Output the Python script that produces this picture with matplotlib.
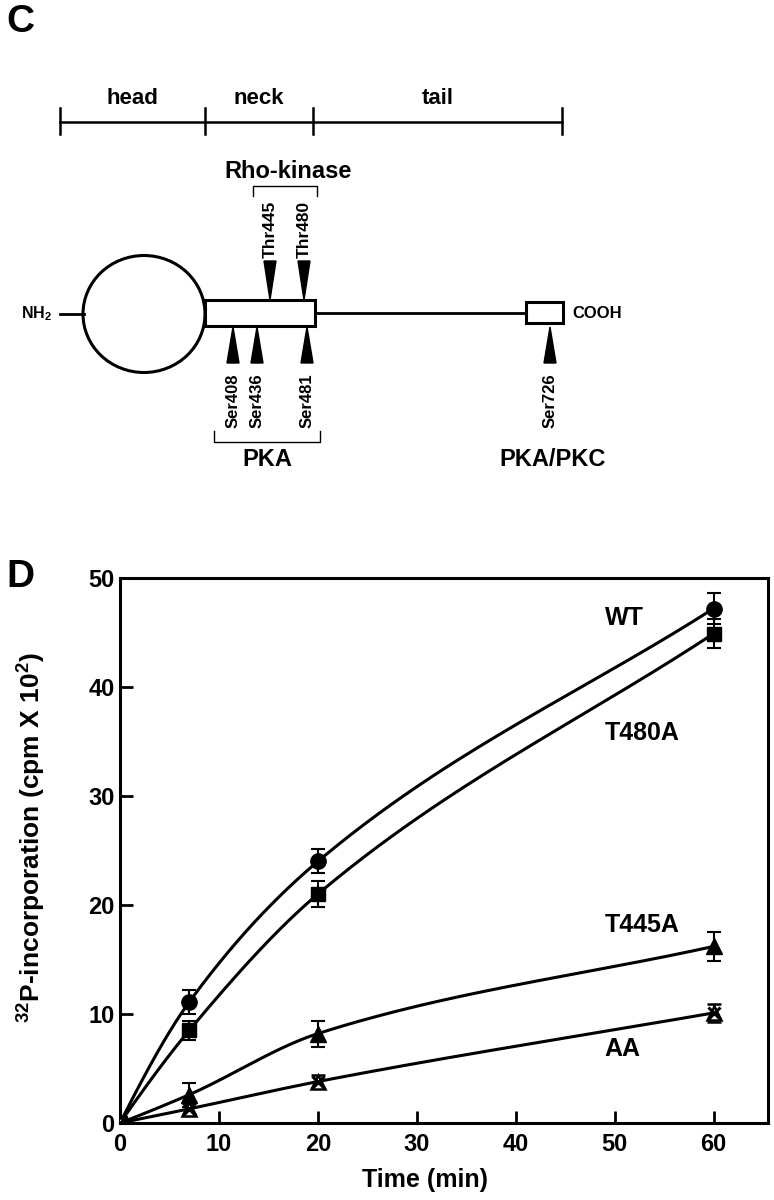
import numpy as np
import matplotlib
matplotlib.use("Agg")
from matplotlib import pyplot as plt
from matplotlib.patches import Ellipse, Rectangle, Polygon

plt.rcParams['font.family'] = ['Liberation Sans', 'DejaVu Sans']
plt.rcParams['font.weight'] = 'bold'
plt.rcParams['axes.labelweight'] = 'bold'
plt.rcParams['mathtext.fontset'] = 'custom'
plt.rcParams['mathtext.rm'] = 'Liberation Sans:bold'
plt.rcParams['mathtext.bf'] = 'Liberation Sans:bold'

# ---- panel D data ----
time = [0, 7, 20, 60]
wt = [0, 11.1, 24.0, 47.2]
wt_err = [0.3, 1.1, 1.1, 1.4]
t480a = [0, 8.5, 21.0, 44.9]
t480a_err = [0.3, 0.9, 1.2, 1.3]
t445a = [0, 2.6, 8.2, 16.2]
t445a_err = [0.3, 1.1, 1.2, 1.3]
aa = [0, 1.3, 3.8, 10.1]
aa_err = [0.3, 0.5, 0.6, 0.8]
series_names = ['WT', 'T480A', 'T445A', 'AA']
label_pos = [(51.0, 46.3), (52.8, 35.8), (52.8, 18.2), (50.8, 6.8)]
xticks = [0, 10, 20, 30, 40, 50, 60]
yticks = [0, 10, 20, 30, 40, 50]

# ---- panel C data ----
domain_names = ['head', 'neck', 'tail']
domain_edges = [60, 205, 313, 562]
rho_sites = ['Thr445', 'Thr480']
rho_x = [270, 304]
pka_sites = ['Ser408', 'Ser436', 'Ser481']
pka_x = [233, 257, 307]
pkc_sites = ['Ser726']
pkc_x = [550]


def smooth_curve(x, y, n=60):
    # monotone cubic through the measured points
    x = np.asarray(x, float)
    y = np.asarray(y, float)
    h = np.diff(x)
    delta = np.diff(y) / h
    d = np.zeros_like(y)
    for k in range(1, len(x) - 1):
        if delta[k - 1] * delta[k] > 0:
            w1 = 2 * h[k] + h[k - 1]
            w2 = h[k] + 2 * h[k - 1]
            d[k] = (w1 + w2) / (w1 / delta[k - 1] + w2 / delta[k])
    d[0] = ((2 * h[0] + h[1]) * delta[0] - h[0] * delta[1]) / (h[0] + h[1])
    d[-1] = delta[-1]
    xs, ys = [], []
    for k in range(len(x) - 1):
        t = np.linspace(0, 1, n)
        h00 = 2 * t**3 - 3 * t**2 + 1
        h10 = t**3 - 2 * t**2 + t
        h01 = -2 * t**3 + 3 * t**2
        h11 = t**3 - t**2
        xs.append(x[k] + t * h[k])
        ys.append(h00 * y[k] + h10 * h[k] * d[k] + h01 * y[k + 1] + h11 * h[k] * d[k + 1])
    return np.concatenate(xs), np.concatenate(ys)


fig = plt.figure(figsize=(7.74, 12), dpi=100)

# overlay in pixel coordinates for the diagram
ov = fig.add_axes([0, 0, 1, 1])
ov.set_xlim(0, 774)
ov.set_ylim(1200, 0)
ov.axis('off')

ov.text(6, 22, 'C', fontsize=28, va='center', ha='left')
ov.text(6, 577, 'D', fontsize=28, va='center', ha='left')

# domain scale bar
ov.plot([domain_edges[0], domain_edges[-1]], [122, 122], color='k', lw=1.8)
for xe in domain_edges:
    ov.plot([xe, xe], [108, 134], color='k', lw=1.8)
for i, name in enumerate(domain_names):
    ov.text((domain_edges[i] + domain_edges[i + 1]) / 2, 98, name,
            fontsize=16, ha='center', va='center')

# molecule
ov.plot([60, 84], [314, 314], color='k', lw=2)
ov.add_patch(Ellipse((144, 314), 122, 117, fill=False, ec='k', lw=2.2))
ov.add_patch(Rectangle((205, 300), 110, 26, fill=False, ec='k', lw=2.2))
ov.plot([315, 526], [313, 313], color='k', lw=2)
ov.add_patch(Rectangle((526, 302), 37, 21, fill=False, ec='k', lw=2.2))
ov.text(21, 314, 'NH$_2$', fontsize=11.5, ha='left', va='center')
ov.text(572, 313, 'COOH', fontsize=12, ha='left', va='center')

# Rho-kinase sites (above)
for name, xs in zip(rho_sites, rho_x):
    ov.add_patch(Polygon([[xs - 6, 261], [xs + 6, 261], [xs, 300]], closed=True, fc='k', ec='k'))
    ov.text(xs, 229, name, rotation=90, fontsize=12.5, ha='center', va='center')
ov.plot([253, 253, 317, 317], [196, 186, 186, 196], color='k', lw=1)
ov.text(288, 171, 'Rho-kinase', fontsize=17, ha='center', va='center')

# PKA / PKC sites (below)
for name, xs in zip(pka_sites + pkc_sites, pka_x + pkc_x):
    ov.add_patch(Polygon([[xs - 6, 363], [xs + 6, 363], [xs, 327]], closed=True, fc='k', ec='k'))
    ov.text(xs, 401, name, rotation=90, fontsize=12, ha='center', va='center')
ov.plot([214, 214, 320, 320], [431, 442, 442, 431], color='k', lw=1)
ov.text(267, 460, 'PKA', fontsize=17, ha='center', va='center')
ov.text(553, 460, 'PKA/PKC', fontsize=17, ha='center', va='center')

# ---- panel D plot ----
ax = fig.add_axes([120 / 774, (1200 - 1123) / 1200, (768 - 120) / 774, (1123 - 578) / 1200])
data = [wt, t480a, t445a, aa]
for y in data:
    cx, cy = smooth_curve(time, y)
    ax.plot(cx, cy, color='k', lw=2.2, zorder=2)

ebk = dict(color='k', capsize=5, elinewidth=1.5, capthick=1.5, zorder=3)
ax.errorbar(time, wt, yerr=wt_err, fmt='o', ms=11, **ebk)
ax.errorbar(time, t480a, yerr=t480a_err, fmt='s', ms=10, **ebk)
ax.errorbar(time, t445a, yerr=t445a_err, fmt='^', ms=11, **ebk)
ax.errorbar(time, aa, yerr=aa_err, fmt='^', mfc='white', mew=1.8, ms=10, **ebk)
ax.plot(time, aa, 'x', color='k', ms=9, mew=2.2, zorder=4)

for name, (lx, ly) in zip(series_names, label_pos):
    ax.text(lx, ly, name, fontsize=18, ha='center', va='center')

ax.set_xlim(0, 65.5)
ax.set_ylim(0, 50)
ax.set_xticks(xticks)
ax.set_yticks(yticks)
ax.tick_params(direction='in', length=9, width=2, labelsize=17, top=False, right=False)
ax.tick_params(axis='x', pad=7)
ax.tick_params(axis='y', pad=4)
for sp in ax.spines.values():
    sp.set_linewidth(2.2)
ax.set_xlabel('Time (min)', fontsize=18)
ax.set_ylabel('$^{32}$P-incorporation (cpm X 10$^2$)', fontsize=19)
ax.xaxis.set_label_coords(0.47, -0.083)
ax.yaxis.set_label_coords(-0.112, 0.524)

fig.savefig('out.png', dpi=100)
